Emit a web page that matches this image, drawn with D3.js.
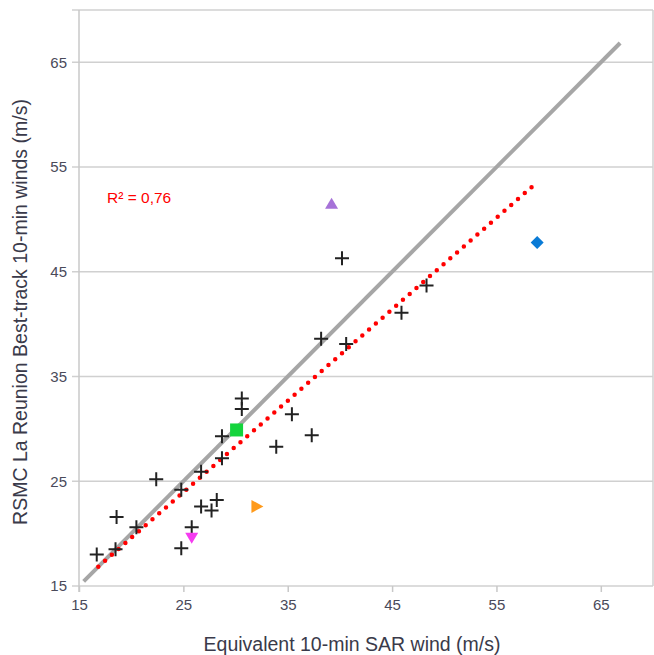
<!DOCTYPE html>
<html>
<head>
<meta charset="utf-8">
<script src="https://cdn.jsdelivr.net/npm/d3@7"></script>
<style>
    body { margin: 0; background: #fff; }
    text { font-family: "Liberation Sans", Arial, sans-serif; }
</style>
</head>
<body>
<div class="chart"></div>
<script>
// data
const sarWind = [16.7, 18.6, 18.5, 20.5, 22.4, 24.8, 24.8, 25.8, 26.7, 26.7, 27.7, 28.2, 28.7, 28.7, 30.6, 30.6, 33.9, 35.4, 37.3, 38.2, 40.6, 40.2, 45.9, 48.3]
const bestTrack = [18.0, 21.6, 18.5, 20.6, 25.2, 24.2, 18.6, 20.6, 25.9, 22.6, 22.2, 23.2, 27.2, 29.3, 32.9, 31.9, 28.3, 31.4, 29.4, 38.6, 38.1, 46.3, 41.1, 43.7]

// special cases (one marker each)
const specialNames = ['square', 'down', 'right', 'up', 'diamond']
const specialX = [30.1, 25.8, 32.0, 39.2, 58.9]
const specialY = [29.9, 19.6, 22.6, 51.5, 47.8]
const specialColors = ['#13d43c', '#f53cf0', '#ff9a1a', '#a672d8', '#0a7bd6']

// 1:1 line and trend line ends
const diagX = [15.45, 66.85]
const trendX = [16.85, 58.86]
const trendY = [16.84, 53.52]
const r2Label = 'R² = 0,76'

const ticks = [15, 25, 35, 45, 55, 65]
const xTitle = 'Equivalent 10-min SAR wind (m/s)'
const yTitle = 'RSMC La Reunion Best-track 10-min winds (m/s)'

const width = 654,
    height = 655
const mLeft = 79, mRight = 653, mTop = 10, mBottom = 586

const x = d3.scaleLinear().domain([15, 70]).range([mLeft, mRight])
const y = d3.scaleLinear().domain([15, 70]).range([mBottom, mTop])

const svg = d3.select('.chart').append('svg')
    .attr('width', width)
    .attr('height', height)

// horizontal grid
svg.append('g').selectAll('line')
    .data(ticks.concat([70]))
    .enter().append('line')
    .attr('x1', mLeft - 7)
    .attr('x2', mRight)
    .attr('y1', d => y(d))
    .attr('y2', d => y(d))
    .style('stroke', '#d0d0d0')
    .style('stroke-width', 1.5)

// frame
svg.append('line').attr('x1', mLeft).attr('x2', mLeft).attr('y1', mTop).attr('y2', mBottom + 6)
    .style('stroke', '#c8c8c8').style('stroke-width', 1.5)
svg.append('line').attr('x1', mRight).attr('x2', mRight).attr('y1', mTop).attr('y2', mBottom)
    .style('stroke', '#d0d0d0').style('stroke-width', 1.5)

// x ticks
const xAxis = svg.append('g')
    .attr('transform', 'translate(0,' + mBottom + ')')
    .call(d3.axisBottom(x).tickValues(ticks).tickSize(6).tickPadding(7))
xAxis.select('.domain').remove()
xAxis.selectAll('line').style('stroke', '#c8c8c8').style('stroke-width', 1.5)
xAxis.selectAll('text').style('fill', '#4a4a5a').style('font-size', '15px')

// y labels
const yAxis = svg.append('g')
    .attr('transform', 'translate(' + mLeft + ',0)')
    .call(d3.axisLeft(y).tickValues(ticks).tickSize(0).tickPadding(12))
yAxis.select('.domain').remove()
yAxis.selectAll('text').style('fill', '#4a4a5a').style('font-size', '15px')

// 1:1 line
svg.append('line')
    .attr('x1', x(diagX[0])).attr('y1', y(diagX[0]))
    .attr('x2', x(diagX[1])).attr('y2', y(diagX[1]))
    .style('stroke', '#a6a6a6')
    .style('stroke-width', 4)

// trend line, dotted
svg.append('line')
    .attr('x1', x(trendX[0])).attr('y1', y(trendY[0]))
    .attr('x2', x(trendX[1])).attr('y2', y(trendY[1]))
    .style('stroke', '#ff0000')
    .style('stroke-width', 4.5)
    .style('stroke-linecap', 'round')
    .style('stroke-dasharray', '0 9')

// crosses
const pts = sarWind.map((d, i) => [d, bestTrack[i]])
svg.append('g').selectAll('path')
    .data(pts)
    .enter().append('path')
    .attr('transform', d => 'translate(' + x(d[0]) + ',' + y(d[1]) + ')')
    .attr('d', 'M-7,0H7M0,-7V7')
    .style('stroke', '#222')
    .style('stroke-width', 2)

// special markers
const shapes = {
    square: 'M-6.5,-6.5H6.5V6.5H-6.5Z',
    down: 'M-6.5,-5H6.5L0,6Z',
    right: 'M-5,-6.5V6.5L7,0Z',
    up: 'M-6.5,5H6.5L0,-6Z',
    diamond: 'M0,-6.5L6.5,0L0,6.5L-6.5,0Z'
}
svg.append('g').selectAll('path')
    .data(specialNames)
    .enter().append('path')
    .attr('d', d => shapes[d])
    .attr('transform', (d, i) => 'translate(' + x(specialX[i]) + ',' + y(specialY[i]) + ')')
    .style('fill', (d, i) => specialColors[i])

// R² label
svg.append('text')
    .attr('x', 107)
    .attr('y', 203)
    .style('fill', '#ff0000')
    .style('font-size', '15.5px')
    .text(r2Label)

// axis titles
svg.append('text')
    .attr('x', 352)
    .attr('y', 651)
    .style('text-anchor', 'middle')
    .style('fill', '#3a3a4a')
    .style('font-size', '19.5px')
    .text(xTitle)

svg.append('text')
    .attr('transform', 'translate(27,' + 312 + ') rotate(-90)')
    .style('text-anchor', 'middle')
    .style('fill', '#3a3a4a')
    .style('font-size', '19.5px')
    .text(yTitle)
</script>
</body>
</html>
